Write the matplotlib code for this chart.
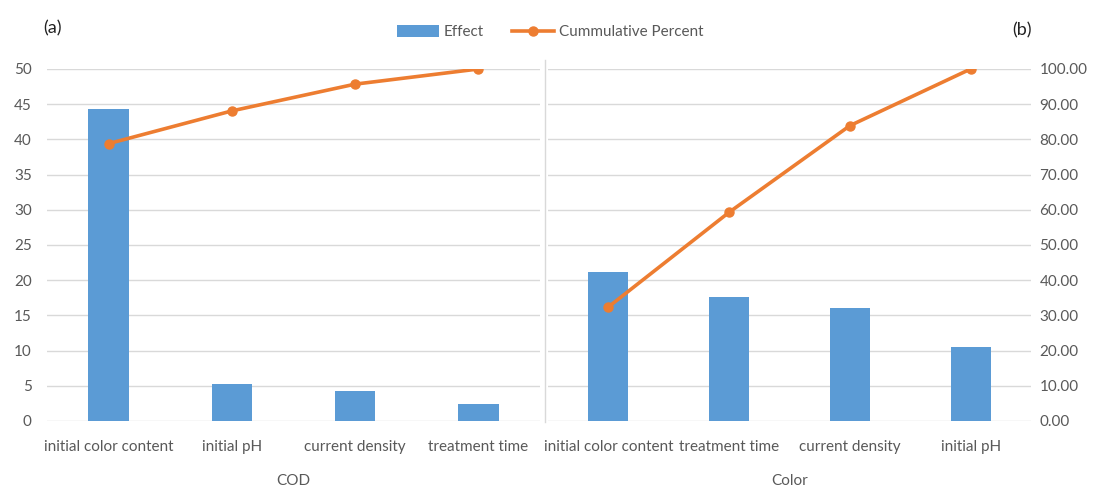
import matplotlib
matplotlib.use("Agg")
import matplotlib.pyplot as plt
from matplotlib.lines import Line2D
from matplotlib.patches import Patch

plt.rcParams['font.family'] = ['Lato', 'DejaVu Sans']

# effects and cumulative percent for each response
cod_factors = ['initial color content', 'initial pH', 'current density', 'treatment time']
cod_effect = [44.3, 5.2, 4.3, 2.4]
cod_cum = [78.8, 88.1, 95.7, 100.0]

color_factors = ['initial color content', 'treatment time', 'current density', 'initial pH']
color_effect = [21.1, 17.6, 16.0, 10.5]
color_cum = [32.4, 59.3, 83.9, 100.0]

BLUE = '#5B9BD5'
ORANGE = '#ED7D31'
TXT = '#595959'
GRID = '#D9D9D9'
FS = 11

fig = plt.figure(figsize=(10.94, 4.88), dpi=100)
W, H = 1094, 488
bottom = (H - 421) / H
height = 352 / H
ax1 = fig.add_axes([47 / W, bottom, (540 - 47) / W, height])
ax2 = fig.add_axes([548 / W, bottom, (1031 - 548) / W, height])


def draw_panel(ax, factors, effect, cum, xlabel):
    x = list(range(len(factors)))
    ax.bar(x, effect, width=0.33, color=BLUE, zorder=2)
    ax.set_xlim(-0.5, len(factors) - 0.5)
    ax.set_ylim(0, 50)
    ax.set_yticks(range(0, 51, 5))
    ax.grid(axis='y', color=GRID, linewidth=1.0, zorder=0)
    ax.set_axisbelow(True)
    for s in ax.spines.values():
        s.set_visible(False)
    ax.set_xticks(x)
    ax.set_xticklabels(factors, fontsize=FS, color=TXT)
    ax.tick_params(axis='x', length=0, pad=14)
    ax.set_xlabel(xlabel, fontsize=FS, color=TXT, labelpad=14)
    tw = ax.twinx()
    tw.plot(x, cum, color=ORANGE, linewidth=2.6, marker='o', markersize=6.5, zorder=3)
    tw.set_ylim(0, 100)
    for s in tw.spines.values():
        s.set_visible(False)
    return tw


tw1 = draw_panel(ax1, cod_factors, cod_effect, cod_cum, 'COD')
tw2 = draw_panel(ax2, color_factors, color_effect, color_cum, 'Color')

ax1.tick_params(axis='y', length=0, pad=11, labelsize=FS, labelcolor=TXT)
tw1.set_yticks([])
ax2.tick_params(axis='y', length=0, labelleft=False)
tw2.set_yticks(range(0, 101, 10))
tw2.set_yticklabels([f'{v:.2f}' for v in range(0, 101, 10)])
tw2.tick_params(axis='y', length=0, pad=6, labelsize=FS, labelcolor=TXT)

# separator between the two groups
fig.add_artist(Line2D([545 / W, 545 / W], [(H - 422) / H, (H - 60) / H],
                      color=GRID, linewidth=1.0, transform=fig.transFigure))

fig.text(52 / W, 1 - 28 / H, '(a)', fontsize=13, color='#222222', va='center', ha='center')
fig.text(1022 / W, 1 - 30 / H, '(b)', fontsize=13, color='#222222', va='center', ha='center')

handles = [Patch(facecolor=BLUE, edgecolor='none'),
           Line2D([], [], color=ORANGE, linewidth=2.6, marker='o', markersize=6.5)]
fig.legend(handles, ['Effect', 'Cummulative Percent'], loc='center',
           bbox_to_anchor=(550 / W, 1 - 32 / H), ncol=2, frameon=False,
           fontsize=FS, labelcolor=TXT, handlelength=2.8, handleheight=0.9,
           handletextpad=0.3, columnspacing=1.8)

fig.savefig('out.png', dpi=100)
